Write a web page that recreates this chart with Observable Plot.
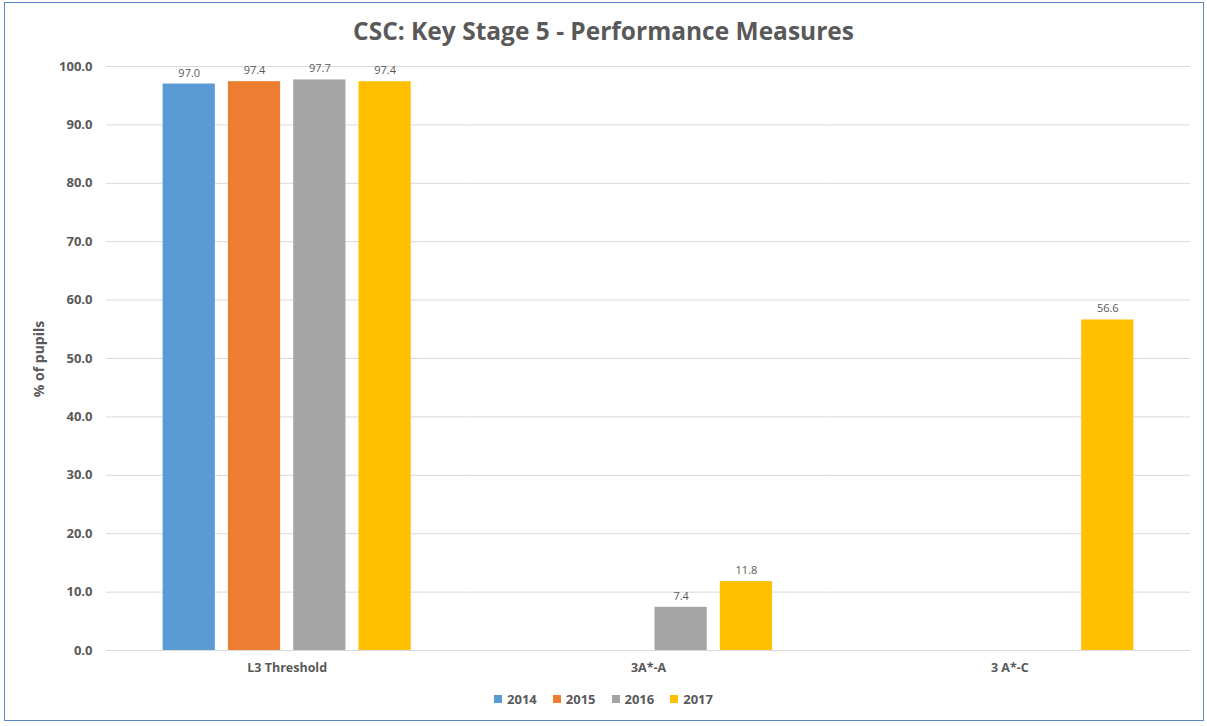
<!DOCTYPE html>
<html>
<head>
<meta charset="utf-8">
<script src="https://cdn.jsdelivr.net/npm/d3@7"></script>
<script src="https://cdn.jsdelivr.net/npm/@observablehq/plot@0.6"></script>
<style>
  html, body { margin: 0; padding: 0; background: #fff; }
  body { width: 1207px; height: 726px; position: relative; overflow: hidden; font-family: "Open Sans", sans-serif; }
  #frame { position: absolute; left: 4px; top: 2px; width: 1200px; height: 719px; border: 1.5px solid #5a87c4; box-sizing: border-box; }
  #title { position: absolute; left: 0; width: 1207px; top: 14px; text-align: center; font-size: 24.5px; font-weight: bold; color: #595959; }
  #ylabel { position: absolute; left: 38px; top: 359px; transform: translate(-50%, -50%) rotate(-90deg); font-size: 14px; font-weight: bold; color: #595959; white-space: nowrap; }
  #chart { position: absolute; left: 0; top: 0; }
  #legend { position: absolute; top: 690px; left: 0; width: 1207px; display: flex; justify-content: center; gap: 16px; font-size: 13px; font-weight: bold; color: #595959; }
  #legend span.item { display: inline-flex; align-items: center; gap: 5px; }
  #legend span.sw { width: 8px; height: 8px; display: inline-block; }
</style>
</head>
<body>
<div id="frame"></div>
<div id="title">CSC: Key Stage 5 - Performance Measures</div>
<div id="chart"></div>
<div id="ylabel">% of pupils</div>
<div id="legend"></div>
<script>
const categories = ["L3 Threshold", "3A*-A", "3 A*-C"];
const years = ["2014", "2015", "2016", "2017"];
const v2014 = [97.0, null, null];
const v2015 = [97.4, null, null];
const v2016 = [97.7, 7.4, null];
const v2017 = [97.4, 11.8, 56.6];
const colors = ["#5b9bd5", "#ed7d31", "#a5a5a5", "#ffc000"];
const yTicks = [0, 10, 20, 30, 40, 50, 60, 70, 80, 90, 100];

const series = [v2014, v2015, v2016, v2017];
const data = [];
categories.forEach((c, i) => {
  years.forEach((yr, j) => {
    const v = series[j][i];
    if (v != null) data.push({cat: c, year: yr, value: v});
  });
});

const chart = Plot.plot({
  width: 1207,
  height: 690,
  marginLeft: 106,
  marginRight: 17,
  marginTop: 66,
  marginBottom: 40,
  style: {fontFamily: "'Open Sans', sans-serif", color: "#595959", background: "transparent"},
  fx: {domain: categories, padding: 0, label: null, round: false},
  x: {domain: years, paddingInner: 0.2, paddingOuter: 0.867, round: false, axis: null},
  y: {domain: [0, 100], label: null},
  color: {domain: years, range: colors},
  marks: [
    Plot.gridY(yTicks, {stroke: "#d9d9d9", strokeOpacity: 1, strokeWidth: 1}),
    Plot.axisY(yTicks, {tickSize: 0, tickPadding: 14, tickFormat: d => d.toFixed(1), fontSize: 13, fontWeight: "bold", fill: "#595959", label: null}),
    Plot.axisFx({anchor: "bottom", tickSize: 0, tickPadding: 13, fontSize: 12.5, fontWeight: "bold", fill: "#595959", label: null}),
    Plot.barY(data, {fx: "cat", x: "year", y: "value", fill: "year"}),
    Plot.text(data, {fx: "cat", x: "year", y: "value", text: d => d.value.toFixed(1), dy: -11, fontSize: 11, fill: "#595959"})
  ]
});
document.getElementById("chart").appendChild(chart);

const legend = document.getElementById("legend");
years.forEach((yr, i) => {
  const item = document.createElement("span");
  item.className = "item";
  const sw = document.createElement("span");
  sw.className = "sw";
  sw.style.background = colors[i];
  item.appendChild(sw);
  item.appendChild(document.createTextNode(yr));
  legend.appendChild(item);
});
</script>
</body>
</html>
